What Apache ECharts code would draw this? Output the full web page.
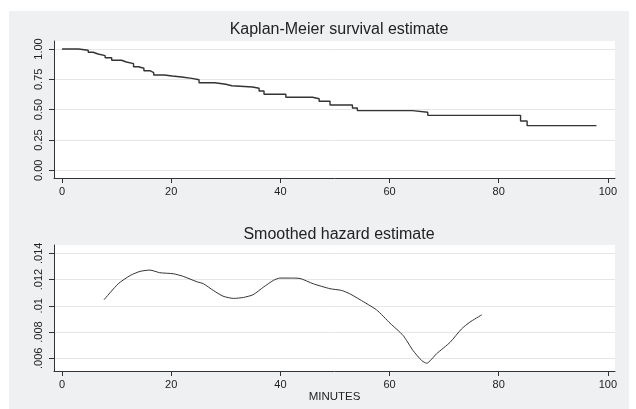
<!DOCTYPE html>
<html>
<head>
<meta charset="utf-8">
<script src="https://cdn.jsdelivr.net/npm/echarts@6/dist/echarts.min.js"></script>
<style>html,body{margin:0;padding:0;background:#fff}#c{width:636px;height:409px}</style>
</head>
<body>
<div id="c"></div>
<script>
// Kaplan-Meier survival estimate (step function)
const kmTimes = [0, 3.0, 4.8, 5.7, 6.6, 7.9, 9.1, 10.9, 11.8, 13.1, 14.0, 15.0, 16.1, 16.8, 18.7, 20.2, 21.9, 23.8, 25.1, 28.0, 30.0, 31.1, 34.9, 36.1, 37.0, 41.0, 45.9, 47.1, 49.1, 53.2, 54.1, 64.2, 67.0, 84.0, 85.2, 97.9];
const kmSurv  = [1.0, 0.99, 0.973, 0.959, 0.945, 0.928, 0.907, 0.893, 0.879, 0.854, 0.841, 0.821, 0.805, 0.786, 0.777, 0.769, 0.758, 0.747, 0.722, 0.709, 0.697, 0.687, 0.676, 0.654, 0.627, 0.602, 0.590, 0.569, 0.538, 0.514, 0.492, 0.478, 0.453, 0.406, 0.368, 0.368];

// Smoothed hazard estimate
const hzTimes = [7.7, 10.3, 12.5, 14.3, 16.1, 17.9, 20.4, 22.2, 24.7, 25.9, 27.7, 29.5, 31.4, 33.2, 35.0, 36.9, 38.7, 39.9, 41.8, 43.6, 46.0, 49.1, 51.2, 52.7, 54.6, 57.6, 60.1, 62.5, 64.3, 65.9, 66.8, 68.6, 71.1, 73.2, 74.7, 76.9];
const hzVals  = [0.01046, 0.01168, 0.01231, 0.01262, 0.01272, 0.01252, 0.01244, 0.01224, 0.01183, 0.01168, 0.01117, 0.01073, 0.01056, 0.01063, 0.01084, 0.01142, 0.01193, 0.01211, 0.01211, 0.01208, 0.01168, 0.0113, 0.01117, 0.01092, 0.01046, 0.00969, 0.00867, 0.00773, 0.00659, 0.00582, 0.00562, 0.00634, 0.00722, 0.00824, 0.00875, 0.00931];

// Tick labels
const xTicks = [0, 20, 40, 60, 80, 100];
const kmYTicks = [0, 0.25, 0.5, 0.75, 1.0];
const kmYLabels = ['0.00', '0.25', '0.50', '0.75', '1.00'];
const hzYTicks = [0.006, 0.008, 0.01, 0.012, 0.014];
const hzYLabels = ['.006', '.008', '.01', '.012', '.014'];

const titles = ['Kaplan-Meier survival estimate', 'Smoothed hazard estimate'];
const xName = 'MINUTES';

const FONT = '"Liberation Sans", Arial, sans-serif';
const txt = '#222';
const axisCol = '#333';
const gridCol = '#e4e7ea';

function xAxisDef(idx, name) {
  return {
    type: 'value', gridIndex: idx, min: -1.47, max: 101.3,
    name: name || '', nameLocation: 'middle', nameGap: 17,
    nameTextStyle: { fontFamily: FONT, fontSize: 11.5, color: txt },
    axisLine: { show: true, onZero: false, lineStyle: { color: axisCol, width: 1 } },
    axisTick: { show: true, length: 5, customValues: xTicks, lineStyle: { color: axisCol } },
    axisLabel: { customValues: xTicks, fontFamily: FONT, fontSize: 11, color: txt, margin: 8 },
    splitLine: { show: false }
  };
}
function yAxisDef(idx, min, max, ticks, labels) {
  return {
    type: 'value', gridIndex: idx, min: min, max: max,
    axisLine: { show: true, onZero: false, lineStyle: { color: axisCol, width: 1 } },
    axisTick: { show: true, length: 5, customValues: ticks, lineStyle: { color: axisCol } },
    axisLabel: {
      customValues: ticks, rotate: 90, fontFamily: FONT, fontSize: 11, color: txt, margin: 10,
      formatter: function (v) {
        for (let i = 0; i < ticks.length; i++) if (Math.abs(ticks[i] - v) < 1e-9) return labels[i];
        return '';
      }
    },
    splitLine: { show: true, lineStyle: { color: gridCol, width: 1 } }
  };
}

const chart = echarts.init(document.getElementById('c'), null, { renderer: 'canvas' });
chart.setOption({
  animation: false,
  backgroundColor: '#ffffff',
  graphic: [{ type: 'rect', z: -10, silent: true, shape: { x: 9, y: 11, width: 620, height: 398 }, style: { fill: '#eef0f2' } }],
  title: [
    { text: titles[0], left: 334, textAlign: 'center', top: 17, textStyle: { fontFamily: FONT, fontSize: 16, fontWeight: 'normal', color: txt } },
    { text: titles[1], left: 334, textAlign: 'center', top: 222, textStyle: { fontFamily: FONT, fontSize: 16, fontWeight: 'normal', color: txt } }
  ],
  grid: [
    { left: 54, top: 41, width: 561, height: 137, show: true, backgroundColor: '#fff', borderWidth: 0 },
    { left: 54, top: 245, width: 561, height: 126, show: true, backgroundColor: '#fff', borderWidth: 0 }
  ],
  xAxis: [xAxisDef(0), xAxisDef(1, xName)],
  yAxis: [
    yAxisDef(0, -0.0635, 1.066, kmYTicks, kmYLabels),
    yAxisDef(1, 0.00503, 0.01463, hzYTicks, hzYLabels)
  ],
  series: [
    {
      type: 'line', xAxisIndex: 0, yAxisIndex: 0, step: 'end', showSymbol: false,
      data: kmTimes.map((t, i) => [t, kmSurv[i]]),
      lineStyle: { color: '#333', width: 1.4 }
    },
    {
      type: 'line', xAxisIndex: 1, yAxisIndex: 1, showSymbol: false, smooth: 0.2,
      data: hzTimes.map((t, i) => [t, hzVals[i]]),
      lineStyle: { color: '#333', width: 1 }
    }
  ]
});
</script>
</body>
</html>
